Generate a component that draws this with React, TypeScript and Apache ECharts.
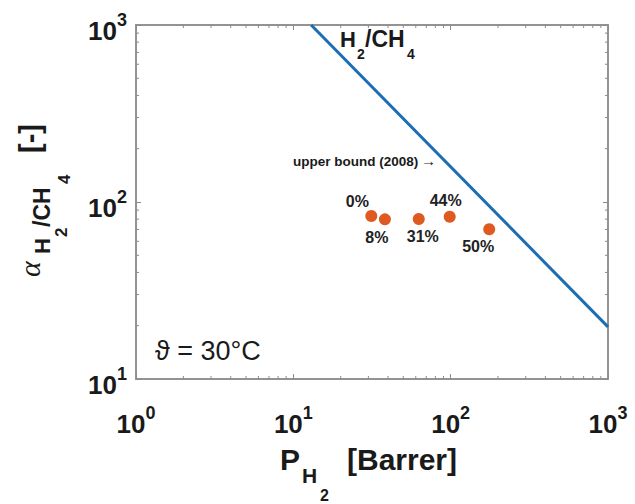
import React, { useEffect, useRef } from 'react';
import * as echarts from 'echarts';

// Robeson upper bound (2008) for H2/CH4, endpoints
const boundP = [12.98, 1000];
const boundAlpha = [1000, 19.7];

// Samples
const sampleP = [31.3, 38.2, 62.7, 98.6, 175.8];
const sampleAlpha = [83.4, 79.8, 80.2, 82.6, 70.1];
const sampleLabels = ['0%', '8%', '31%', '44%', '50%'];

// Tick labels (exponents of 10)
const xTickExponents = ['0', '1', '2', '3'];
const yTickExponents = ['1', '2', '3'];

// Minor log ticks (axis decoration)
const minorX = [2, 3, 4, 5, 6, 7, 8, 9, 20, 30, 40, 50, 60, 70, 80, 90, 200, 300, 400, 500, 600, 700, 800, 900];
const minorY = [20, 30, 40, 50, 60, 70, 80, 90, 200, 300, 400, 500, 600, 700, 800, 900];

// label layout (pixels, relative to marker centre)
const labelOffsets = [[-14, -14], [-8, 18], [4, 18], [-4, -16], [-11, 17]];

const FONT = '"Liberation Sans", Arial, Helvetica, sans-serif';
const AXIS_GRAY = '#8c8c8c';
const TEXT = '#1a1a1a';

function txt(x: number, baseline: number, text: string, size: number, weight = 'bold', family = FONT, fontStyle = 'normal') {
  return {
    type: 'text',
    x,
    y: baseline - 0.35 * size,
    silent: true,
    style: {
      text,
      fontSize: size,
      fontWeight: weight,
      fontFamily: family,
      fontStyle,
      fill: TEXT,
      align: 'left',
      verticalAlign: 'middle',
    },
  };
}

function expLabel(list: string[]) {
  return (v: number) => {
    const e = String(Math.round(Math.log10(v)));
    return '{b|10}{s|' + (list.includes(e) ? e : e) + '}';
  };
}

const labelRich = {
  b: { fontSize: 26, fontWeight: 'bold', fontFamily: FONT, color: TEXT, lineHeight: 28 },
  s: { fontSize: 18, fontWeight: 'bold', fontFamily: FONT, color: TEXT, lineHeight: 18, padding: [0, 0, 22, 0] },
};

export default function App() {
  const ref = useRef<HTMLDivElement>(null);
  useEffect(() => {
    if (!ref.current) return;
    const chart = echarts.init(ref.current, undefined, { renderer: 'svg' });
    const axisLine = { show: true, lineStyle: { color: AXIS_GRAY, width: 1.5 } };
    const axisTick = { show: true, inside: true, length: 5, lineStyle: { color: AXIS_GRAY, width: 1 } };
    const minorData = [
      ...minorX.map((v) => [v, 10, 0]),
      ...minorY.map((v) => [1, v, 1]),
    ];
    const option = {
      animation: false,
      backgroundColor: '#ffffff',
      grid: { left: 136, right: 27, top: 25, bottom: 125, show: true, borderColor: AXIS_GRAY, borderWidth: 1.5, backgroundColor: 'transparent' },
      xAxis: [
        {
          type: 'log', logBase: 10, min: 1, max: 1000, position: 'bottom',
          axisLine, axisTick, splitLine: { show: false },
          axisLabel: { formatter: expLabel(xTickExponents), rich: labelRich, margin: 31 },
        },
        {
          type: 'log', logBase: 10, min: 1, max: 1000, position: 'top',
          axisLine, axisTick, splitLine: { show: false }, axisLabel: { show: false },
        },
      ],
      yAxis: [
        {
          type: 'log', logBase: 10, min: 10, max: 1000, position: 'left',
          axisLine, axisTick, splitLine: { show: false },
          axisLabel: { formatter: expLabel(yTickExponents), rich: labelRich, margin: 9, padding: [12, 0, 0, 0] },
        },
        {
          type: 'log', logBase: 10, min: 10, max: 1000, position: 'right',
          axisLine, axisTick, splitLine: { show: false }, axisLabel: { show: false },
        },
      ],
      series: [
        {
          type: 'custom',
          xAxisIndex: 0, yAxisIndex: 0,
          silent: true,
          data: minorData,
          renderItem: (params: any, api: any) => {
            const kind = api.value(2);
            const st = { stroke: AXIS_GRAY, lineWidth: 1 };
            const L = 3;
            if (kind === 0) {
              const b = api.coord([api.value(0), 10]);
              const t = api.coord([api.value(0), 1000]);
              return {
                type: 'group',
                children: [
                  { type: 'line', shape: { x1: b[0], y1: b[1], x2: b[0], y2: b[1] - L }, style: st },
                  { type: 'line', shape: { x1: t[0], y1: t[1], x2: t[0], y2: t[1] + L }, style: st },
                ],
              };
            }
            const l = api.coord([1, api.value(1)]);
            const r = api.coord([1000, api.value(1)]);
            return {
              type: 'group',
              children: [
                { type: 'line', shape: { x1: l[0], y1: l[1], x2: l[0] + L, y2: l[1] }, style: st },
                { type: 'line', shape: { x1: r[0], y1: r[1], x2: r[0] - L, y2: r[1] }, style: st },
              ],
            };
          },
          z: 1,
        },
        {
          type: 'line',
          xAxisIndex: 0, yAxisIndex: 0,
          data: boundP.map((p, i) => [p, boundAlpha[i]]),
          symbol: 'none',
          lineStyle: { color: '#1c6db4', width: 3 },
          clip: true,
          silent: true,
        },
        {
          type: 'scatter',
          xAxisIndex: 0, yAxisIndex: 0,
          symbolSize: 12,
          itemStyle: { color: '#de5a20', opacity: 1 },
          data: sampleP.map((p, i) => ({
            value: [p, sampleAlpha[i]],
            label: {
              show: true,
              position: 'inside',
              offset: labelOffsets[i],
              formatter: sampleLabels[i],
              fontSize: 16,
              fontWeight: 'bold',
              fontFamily: FONT,
              color: '#222222',
              textBorderWidth: 0,
            },
          })),
          z: 5,
        },
      ],
      graphic: [
        // x-axis name: P_{H_2} [Barrer]
        txt(280, 470, 'P', 30),
        txt(302, 483, 'H', 21),
        txt(320, 501, '2', 16),
        txt(347, 470, '[Barrer]', 30),
        // y-axis name (rotated): alpha_{H_2/CH_4} [-]
        {
          type: 'group', x: 40, y: 280, rotation: Math.PI / 2,
          children: [
            txt(3, 0, 'α', 30, 'normal', '"Liberation Serif", "Times New Roman", serif', 'italic'),
            txt(26, 10, 'H', 22),
            txt(43, 27, '2', 17),
            txt(53, 10, '/CH', 23),
            txt(96, 30, '4', 17),
            txt(127, 0, '[-]', 29),
          ],
        },
        // line label H2/CH4
        txt(340, 47, 'H', 22),
        txt(357, 59, '2', 14),
        txt(365, 47, '/CH', 23),
        txt(407, 59, '4', 14),
        // upper bound annotation
        txt(293, 166, 'upper bound (2008)', 13.5),
        txt(421, 166, '→', 15, 'normal'),
        // temperature
        txt(155, 360, 'ϑ = 30°C', 27, 'normal'),
      ],
    };
    chart.setOption(option as any);
    return () => chart.dispose();
  }, []);
  return <div ref={ref} style={{ position: 'fixed', left: 0, top: 0, width: 635, height: 504 }} />;
}
